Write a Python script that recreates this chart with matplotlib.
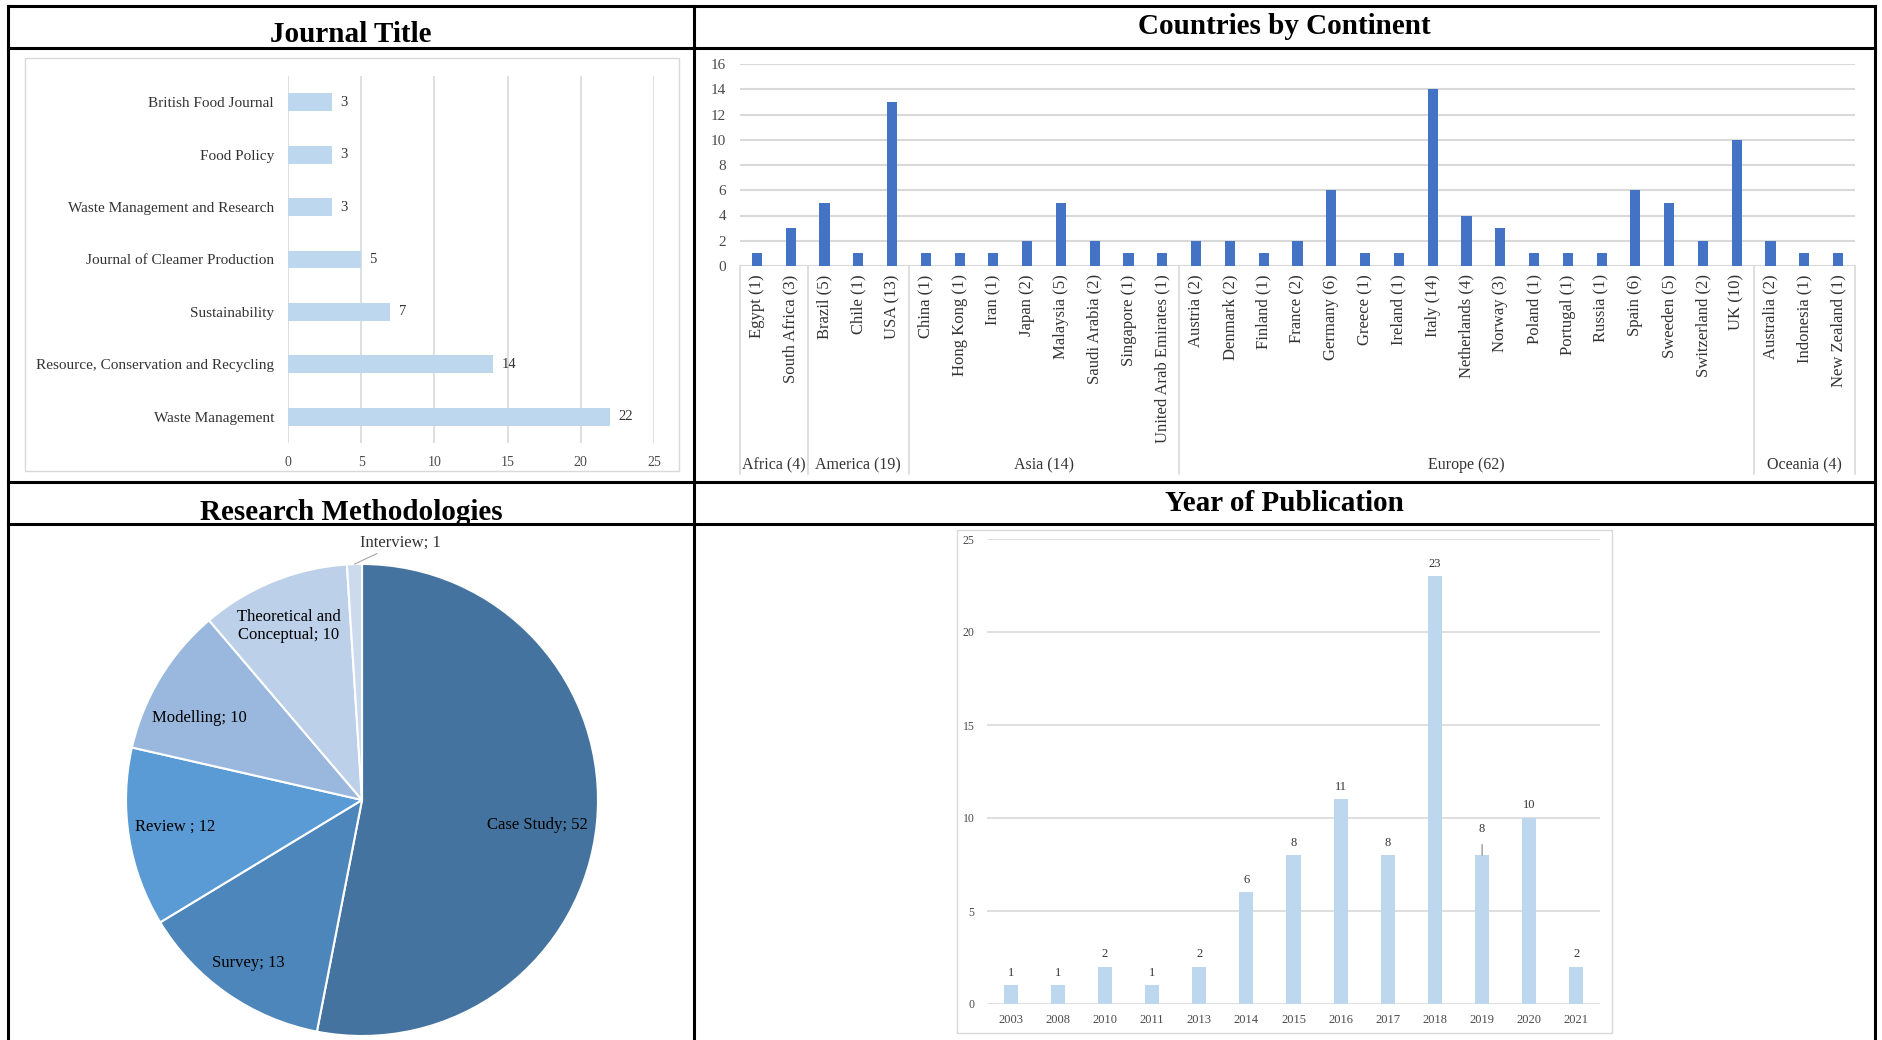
import numpy as np
import matplotlib
matplotlib.use("Agg")
import matplotlib.pyplot as plt
from matplotlib.lines import Line2D
from matplotlib.patches import Rectangle

plt.rcParams['font.family'] = ['Liberation Serif', 'DejaVu Serif']

# ---------------- data ----------------
journals = ["British Food Journal", "Food Policy", "Waste Management and Research",
            "Journal of Cleamer Production", "Sustainability",
            "Resource, Conservation and Recycling", "Waste Management"]
journal_counts = [3, 3, 3, 5, 7, 14, 22]

countries = ["Egypt", "South Africa", "Brazil", "Chile", "USA",
             "China", "Hong Kong", "Iran", "Japan", "Malaysia", "Saudi Arabia", "Singapore",
             "United Arab Emirates",
             "Austria", "Denmark", "Finland", "France", "Germany", "Greece", "Ireland", "Italy",
             "Netherlands", "Norway", "Poland", "Portugal", "Russia", "Spain", "Sweeden",
             "Switzerland", "UK",
             "Australia", "Indonesia", "New Zealand"]
country_counts = [1, 3, 5, 1, 13,
                  1, 1, 1, 2, 5, 2, 1, 1,
                  2, 2, 1, 2, 6, 1, 1, 14, 4, 3, 1, 1, 1, 6, 5, 2, 10,
                  2, 1, 1]
continents = ["Africa (4)", "America (19)", "Asia (14)", "Europe (62)", "Oceania (4)"]
continent_sizes = [2, 3, 8, 17, 3]

methods = ["Case Study; 52", "Survey; 13", "Review ; 12", "Modelling; 10",
           "Theoretical and\nConceptual; 10", "Interview; 1"]
method_counts = [52, 13, 12, 10, 10, 1]
method_colors = ["#44739F", "#4D86BA", "#5B9BD5", "#9AB8DE", "#BDD0EA", "#CCDAEE"]

years = ["2003", "2008", "2010", "2011", "2013", "2014", "2015", "2016", "2017",
         "2018", "2019", "2020", "2021"]
year_counts = [1, 1, 2, 1, 2, 6, 8, 11, 8, 23, 8, 10, 2]

# ---------------- figure ----------------
W, H = 1882, 1040
fig = plt.figure(figsize=(W / 100, H / 100), dpi=100)
fig.patch.set_facecolor("white")


def add_ax(x0, y0, x1, y1):
    return fig.add_axes([x0 / W, 1 - y1 / H, (x1 - x0) / W, (y1 - y0) / H])


def fline(x0, y0, x1, y1, color="black", lw=2.2):
    fig.add_artist(Line2D([x0 / W, x1 / W], [1 - y0 / H, 1 - y1 / H],
                          color=color, lw=lw, transform=fig.transFigure,
                          solid_capstyle="projecting"))


def fbox(x0, y0, x1, y1, color="#D9D9D9", lw=1.0):
    fig.add_artist(Rectangle((x0 / W, 1 - y1 / H), (x1 - x0) / W, (y1 - y0) / H,
                             transform=fig.transFigure, fill=False,
                             edgecolor=color, lw=lw))


GRID = "#D9D9D9"
TICK = "#4A4A4A"
LBL = "#333333"

# table frame
L, R, T = 8, 1875, 6
MID = 694
fline(L, T, R, T)
fline(L, 48, R, 48)
fline(L, 482, R, 482)
fline(L, 524, R, 524)
fline(L, T, L, H)
fline(R, T, R, H)
fline(MID, T, MID, H)

title_kw = dict(fontsize=21, fontweight="bold", ha="center", va="center",
                transform=fig.transFigure, color="black")
fig.text(351 / W, 1 - 35 / H, "Journal Title", **title_kw)
fig.text(1284 / W, 1 - 27 / H, "Countries by Continent", **title_kw)
fig.text(351 / W, 1 - 512 / H, "Research Methodologies", **title_kw)
fig.text(1284 / W, 1 - 503 / H, "Year of Publication", **title_kw)

# ---------------- panel 1: journal titles ----------------
fbox(25, 58, 679, 471)
ax1 = add_ax(288, 76, 654, 443)
ypos = np.arange(len(journals))
ax1.barh(ypos, journal_counts, height=0.34, color="#BDD7EE", zorder=3)
ax1.set_ylim(len(journals) - 0.5, -0.5)
ax1.set_xlim(0, 25)
ax1.set_xticks(range(0, 26, 5))
ax1.set_yticks(ypos)
ax1.set_yticklabels(journals, fontsize=11, color=LBL)
ax1.grid(axis="x", color=GRID, lw=1.2, zorder=0)
for s in ax1.spines.values():
    s.set_visible(False)
ax1.tick_params(axis="both", length=0)
ax1.tick_params(axis="x", pad=9, labelsize=10, labelcolor=TICK)
ax1.tick_params(axis="y", pad=10)
for y, v in zip(ypos, journal_counts):
    ax1.annotate(str(v), (v, y), xytext=(6, 0), textcoords="offset points",
                 ha="left", va="center", fontsize=10.5, color=LBL)

# ---------------- panel 2: countries ----------------
ax2 = add_ax(740, 64, 1855, 266)
xpos = np.arange(len(countries))
ax2.bar(xpos, country_counts, width=0.3, color="#4472C4", zorder=3)
ax2.set_xlim(-0.5, len(countries) - 0.5)
ax2.set_ylim(0, 16)
ax2.set_yticks(range(0, 17, 2))
ax2.grid(axis="y", color=GRID, lw=1.5, zorder=0)
for s in ax2.spines.values():
    s.set_visible(False)
ax2.set_xticks(xpos)
ax2.set_xticklabels([f"{c} ({v})" for c, v in zip(countries, country_counts)],
                    rotation=90, fontsize=12, color=LBL, va="top")
ax2.tick_params(axis="both", length=0)
ax2.tick_params(axis="y", pad=10, labelsize=11, labelcolor=TICK)
ax2.tick_params(axis="x", pad=6)
bounds = np.concatenate([[0], np.cumsum(continent_sizes)]) - 0.5
trans = ax2.get_xaxis_transform()
for b in bounds:
    ax2.plot([b, b], [0, -1.03], color=GRID, lw=1.2, transform=trans, clip_on=False)
for i, name in enumerate(continents):
    ax2.text((bounds[i] + bounds[i + 1]) / 2, -0.985, name, transform=trans,
             ha="center", va="center", fontsize=11.5, color=LBL)

# ---------------- panel 3: pie ----------------
ax3 = add_ax(126, 564, 598, 1036)
wedges, _ = ax3.pie(method_counts, colors=method_colors, startangle=90,
                    counterclock=False, radius=1.0,
                    wedgeprops=dict(edgecolor="white", linewidth=1.5))
ax3.set_xlim(-1, 1)
ax3.set_ylim(-1, 1)
ax3.set_aspect("equal")
label_r = [0.75, 0.84, 0.80, 0.77, 0.80]
label_dtheta = [-2.5, 0.0, -1.0, 4.5, 0.8]
for w, txt, r, dt in zip(wedges[:-1], methods[:-1], label_r, label_dtheta):
    ang = np.deg2rad((w.theta1 + w.theta2) / 2 + dt)
    ax3.text(r * np.cos(ang), r * np.sin(ang), txt, ha="center", va="center",
             fontsize=12, color="black", linespacing=1.1)
w = wedges[-1]
ang = np.deg2rad((w.theta1 + w.theta2) / 2)
ex, ey = np.cos(ang), np.sin(ang)
ax3.annotate(methods[-1], xy=(ex, ey), xytext=(-0.01, 1.09),
             ha="left", va="center", fontsize=12, color=LBL,
             arrowprops=dict(arrowstyle="-", color="#A6A6A6", lw=0.8,
                             shrinkA=0, shrinkB=0),
             annotation_clip=False)

# ---------------- panel 4: year of publication ----------------
fbox(957, 530, 1612, 1033)
ax4 = add_ax(987, 539, 1600, 1004)
ypos4 = np.arange(len(years))
ax4.bar(ypos4, year_counts, width=0.3, color="#BDD7EE", zorder=3)
ax4.set_xlim(-0.5, len(years) - 0.5)
ax4.set_ylim(0, 25)
ax4.set_yticks(range(0, 26, 5))
ax4.grid(axis="y", color=GRID, lw=1.2, zorder=0)
for s in ax4.spines.values():
    s.set_visible(False)
ax4.set_xticks(ypos4)
ax4.set_xticklabels(years)
ax4.tick_params(axis="both", length=0, labelcolor=TICK)
ax4.tick_params(axis="x", pad=7, labelsize=9)
ax4.tick_params(axis="y", pad=9, labelsize=8.5)
for x, v, yr in zip(ypos4, year_counts, years):
    if yr == "2019":
        ax4.annotate(str(v), xy=(x, v), xytext=(0, 19), textcoords="offset points",
                     ha="center", va="center", fontsize=9, color=LBL,
                     arrowprops=dict(arrowstyle="-", color="#7F7F7F", lw=0.8,
                                     shrinkA=5, shrinkB=0))
    else:
        ax4.annotate(str(v), (x, v), xytext=(0, 9), textcoords="offset points",
                     ha="center", va="center", fontsize=9, color=LBL)

fig.savefig("out.png", dpi=100, facecolor="white")
